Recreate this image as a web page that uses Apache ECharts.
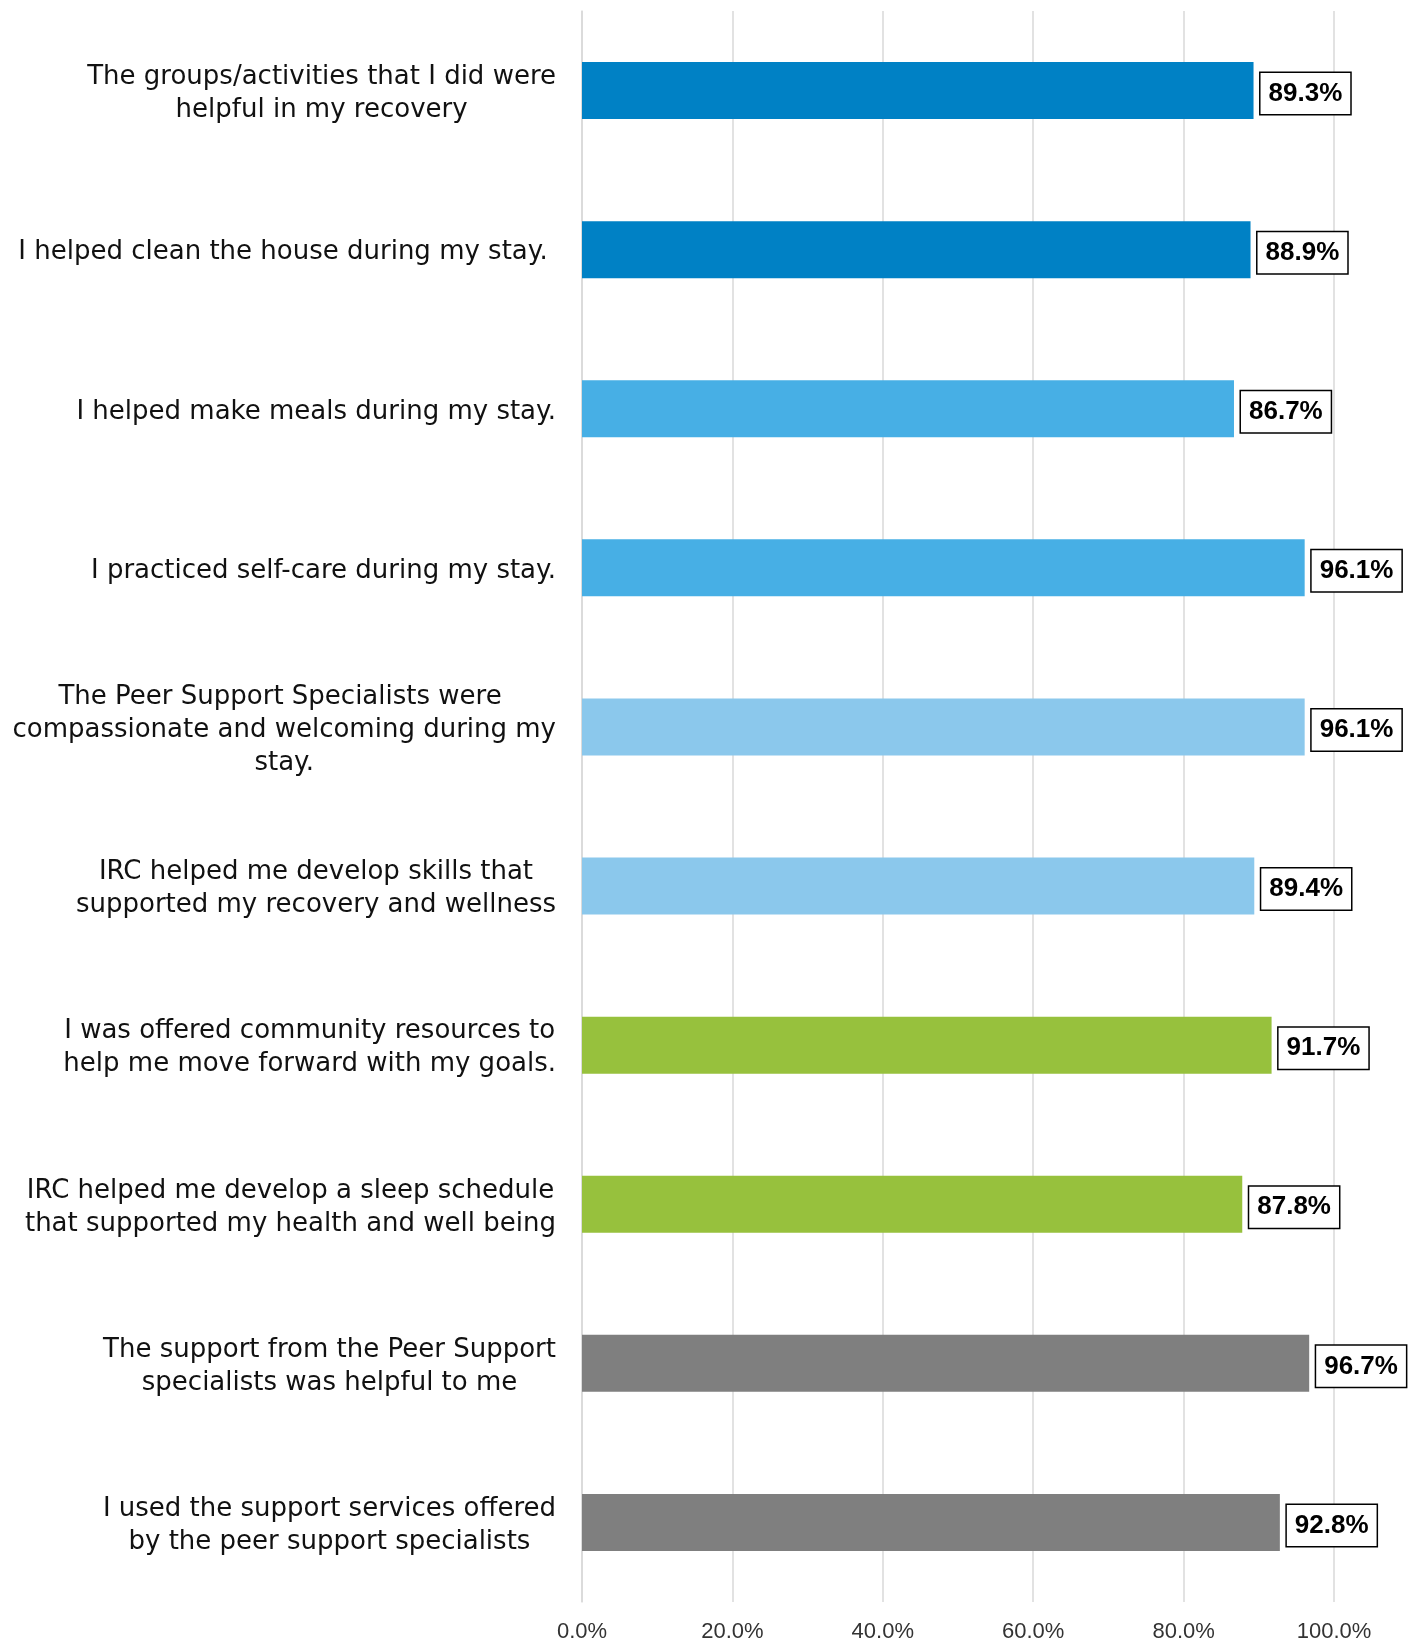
<!DOCTYPE html>
<html>
<head>
<meta charset="utf-8">
<script src="https://cdn.jsdelivr.net/npm/echarts@6/dist/echarts.min.js"></script>
<style>
  html, body { margin: 0; padding: 0; background: #fff; }
  #chart { width: 1420px; height: 1643px; }
</style>
</head>
<body>
<div id="chart"></div>
<script>
const categories = [
  "The groups/activities that I did were\nhelpful in my recovery",
  "I helped clean the house during my stay. ",
  "I helped make meals during my stay.",
  "I practiced self-care during my stay.",
  "The Peer Support Specialists were \ncompassionate and welcoming during my\nstay.",
  "IRC helped me develop skills that\nsupported my recovery and wellness",
  "I was offered community resources to\nhelp me move forward with my goals.",
  "IRC helped me develop a sleep schedule\nthat supported my health and well being",
  "The support from the Peer Support\nspecialists was helpful to me",
  "I used the support services offered\nby the peer support specialists"
];
const values = [89.3, 88.9, 86.7, 96.1, 96.1, 89.4, 91.7, 87.8, 96.7, 92.8];
const barColors = ["#0081C5", "#0081C5", "#47AFE5", "#47AFE5", "#8BC8EC", "#8BC8EC", "#97C13D", "#97C13D", "#7F7F7F", "#7F7F7F"];
const xTicks = [0, 20, 40, 60, 80, 100];

const chart = echarts.init(document.getElementById('chart'));
const catFont = '"DejaVu Sans", sans-serif';
chart.setOption({
  animation: false,
  backgroundColor: '#fff',
  grid: { left: 582, right: 86, top: 11, bottom: 39, containLabel: false },
  xAxis: {
    type: 'value',
    min: xTicks[0],
    max: xTicks[xTicks.length - 1],
    interval: xTicks[1] - xTicks[0],
    axisLine: { show: false },
    axisTick: { show: false },
    splitLine: { show: true, lineStyle: { color: '#d9d9d9', width: 1.5 } },
    axisLabel: {
      margin: 19,
      fontSize: 22,
      fontFamily: '"Liberation Sans", sans-serif',
      color: '#333',
      formatter: v => v.toFixed(1) + '%'
    }
  },
  yAxis: {
    type: 'category',
    inverse: true,
    data: categories,
    axisLine: { show: true, lineStyle: { color: '#d9d9d9', width: 1.5 } },
    axisTick: { show: false },
    axisLabel: {
      margin: 26,
      padding: [6, 0, 0, 0],
      formatter: s => s.split('\n').map(l => '{c|' + l + '}').join('\n'),
      rich: {
        c: {
          align: 'center',
          fontSize: 26,
          lineHeight: 33,
          fontFamily: catFont,
          color: '#111'
        }
      }
    }
  },
  series: [{
    type: 'bar',
    barWidth: 57,
    data: values.map((v, i) => ({ value: v, itemStyle: { color: barColors[i] } })),
    label: {
      show: true,
      position: 'right',
      distance: 7,
      offset: [0, 3],
      formatter: p => p.value.toFixed(1) + '%',
      fontFamily: '"Liberation Sans", sans-serif',
      fontWeight: 'bold',
      fontSize: 26,
      lineHeight: 31,
      color: '#000',
      backgroundColor: '#fff',
      borderColor: '#000',
      borderWidth: 1.5,
      padding: [5, 8, 5, 8]
    }
  }]
});
</script>
</body>
</html>
